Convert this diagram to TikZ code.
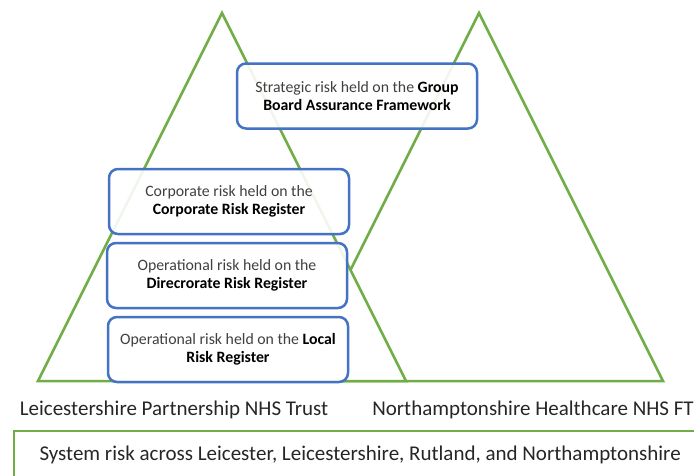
\documentclass[tikz,border=0pt]{standalone}
\usepackage{fontspec}
\setmainfont{Carlito}
\definecolor{trigreen}{HTML}{70AD47}
\definecolor{boxblue}{HTML}{4472C4}
\definecolor{softgray}{HTML}{404040}
\tikzset{
  triangle/.style={draw=trigreen,line width=2.5pt,line join=miter},
  riskbox/.style={draw=boxblue,line width=2.5pt,rounded corners=9pt,fill=white,fill opacity=0.9,text opacity=1,
    minimum width=240pt,minimum height=65pt,align=center,text=softgray,font=\fontsize{15.8}{18.5}\selectfont},
  trustlabel/.style={text=black!85,font=\fontsize{21}{24}\selectfont}
}
\begin{document}
\begin{tikzpicture}[x=1pt,y=-1pt]
\useasboundingbox (0,0) rectangle (694,475);
% right trust, partly hidden by the left one
\draw[triangle] (295,381) -- (479,13) -- (663,381) -- cycle;
\draw[triangle,fill=white] (38,381) -- (222,13) -- (406,381) -- cycle;
% registers
\node[riskbox] (strategic) at (357,96) {Strategic risk held on the \textcolor{black}{\textbf{Group}}\\\textcolor{black}{\textbf{Board Assurance Framework}}};
\node[riskbox] (corporate) at (229,201.5) {Corporate risk held on the\\\textcolor{black}{\textbf{Corporate Risk Register}}};
\node[riskbox] (directorate) at (227,275.5) {Operational risk held on the\\\textcolor{black}{\textbf{Direcrorate Risk Register}}};
\node[riskbox] (local) at (228,349.5) {Operational risk held on the \textcolor{black}{\textbf{Local}}\\\textcolor{black}{\textbf{Risk Register}}};
% trust names
\node[trustlabel] (lpt) at (174,410) {Leicestershire Partnership NHS Trust};
\node[trustlabel] (nhft) at (533,410) {Northamptonshire Healthcare NHS FT};
% system level
\draw[draw=trigreen,line width=2.5pt] (700,431) -- (14,431) -- (14,480);
\node[trustlabel,anchor=west] (system) at (36,455) {System risk across Leicester, Leicestershire, Rutland, and Northamptonshire};
\end{tikzpicture}
\end{document}
